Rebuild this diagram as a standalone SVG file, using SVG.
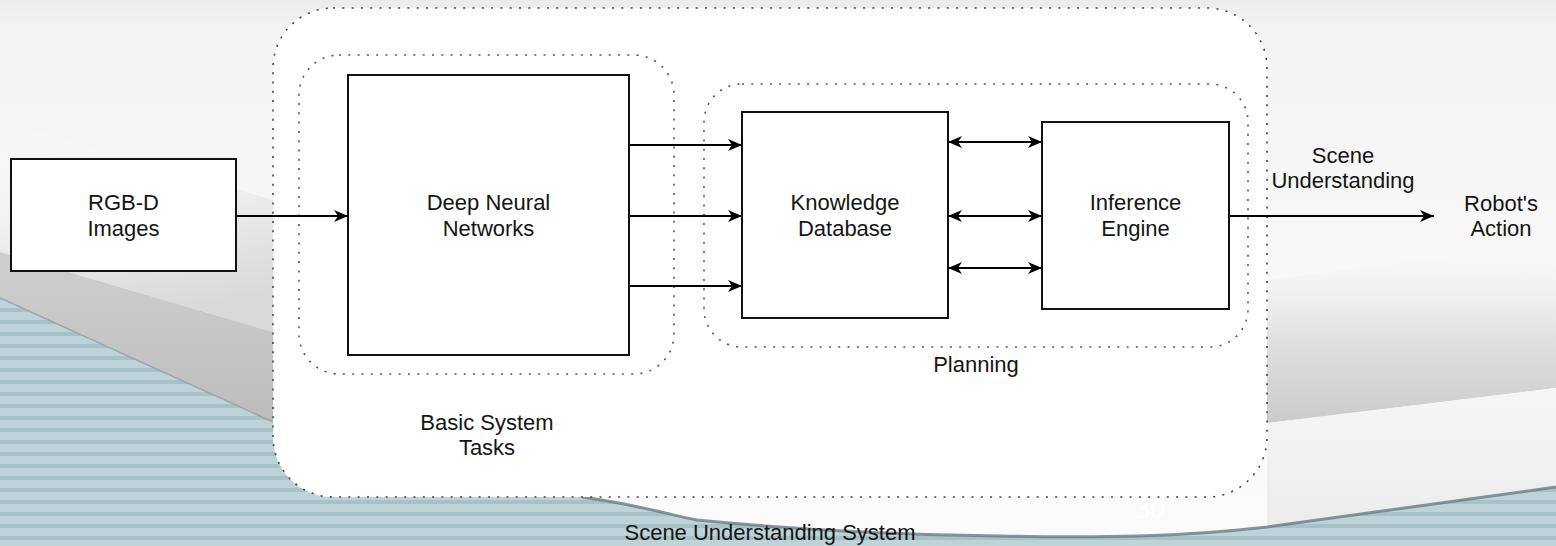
<svg xmlns="http://www.w3.org/2000/svg" width="1556" height="546" viewBox="0 0 1556 546">
  <defs>
    <linearGradient id="bgTop" x1="0" y1="0" x2="0" y2="1">
      <stop offset="0" stop-color="#ececec"/>
      <stop offset="0.05" stop-color="#f3f3f3"/>
      <stop offset="0.5" stop-color="#f8f8f8"/>
      <stop offset="1" stop-color="#fbfbfb"/>
    </linearGradient>
    <linearGradient id="leftLight" x1="0" y1="0" x2="0.25" y2="1">
      <stop offset="0" stop-color="#ffffff" stop-opacity="0"/>
      <stop offset="0.6" stop-color="#eaeaea"/>
      <stop offset="1" stop-color="#d9d9d9"/>
    </linearGradient>
    <linearGradient id="leftBand" x1="0" y1="0" x2="0" y2="1">
      <stop offset="0" stop-color="#cfcfcf"/>
      <stop offset="1" stop-color="#bcbcbc"/>
    </linearGradient>
    <linearGradient id="rightBand" x1="0" y1="0" x2="0" y2="1">
      <stop offset="0" stop-color="#f4f4f4" stop-opacity="0"/>
      <stop offset="0.5" stop-color="#e2e2e2"/>
      <stop offset="1" stop-color="#cbcbcb"/>
    </linearGradient>
    <linearGradient id="rightLow" x1="0" y1="0" x2="0" y2="1">
      <stop offset="0" stop-color="#f6f6f6"/>
      <stop offset="1" stop-color="#ececec"/>
    </linearGradient>
    <pattern id="stripes" x="0" y="0" width="20" height="12" patternUnits="userSpaceOnUse">
      <rect width="20" height="12" fill="#bdd3d8"/>
      <rect y="8" width="20" height="4" fill="#a8c1c7"/>
    </pattern>
    <marker id="arrow" viewBox="0 0 14 12" refX="14" refY="6" markerWidth="14" markerHeight="12" markerUnits="userSpaceOnUse" orient="auto-start-reverse">
      <path d="M0,0 L14,6 L0,12 L4,6 Z" fill="#000"/>
    </marker>
    <style>
      .box { fill: #ffffff; stroke: #111; stroke-width: 2; }
      .dot-outer { fill: #ffffff; stroke: #444; stroke-width: 1.6; stroke-dasharray: 2 7.3; }
      .dot-inner { fill: none; stroke: #555; stroke-width: 1.6; stroke-dasharray: 2 7.3; }
      .lbl { font-family: "Liberation Sans", Arial, Helvetica, sans-serif; font-size: 22px; fill: #151515; text-anchor: middle; }
      .edge { fill: none; stroke: #000; stroke-width: 2; }
    </style>
  </defs>

  <!-- slide background -->
  <g id="background">
    <rect x="0" y="0" width="1556" height="546" fill="url(#bgTop)"/>
    <path d="M0,120 L273,200 L273,332 L0,252 Z" fill="url(#leftLight)"/>
    <path d="M0,252 L273,332 L273,424 L0,298 Z" fill="url(#leftBand)"/>
    <path d="M1267,280 C1380,265 1480,252 1556,245 L1556,388 L1267,423 Z" fill="url(#rightBand)"/>
    <path d="M1267,423 L1556,388 L1556,487 C1450,505 1350,518 1267,527 Z" fill="url(#rightLow)"/>
    <path d="M0,298 L273,422 L480,490 L582,497 C640,505 670,515 697,520 C800,530 900,535 1000,536 C1100,538 1180,537 1267,527 L1556,487 L1556,546 L0,546 Z" fill="url(#stripes)"/>
    <path d="M582,497 C640,505 670,515 697,520 C800,530 900,535 1000,536 C1100,538 1180,537 1267,527 L1556,487" fill="none" stroke="#5f777e" stroke-width="3" opacity="0.75"/>
    <path d="M0,298 L273,422" fill="none" stroke="#8d9ea3" stroke-width="1.5" opacity="0.8"/>
    <text x="1135" y="518" font-family="Liberation Serif, serif" font-size="30" fill="#ffffff">30</text>
  </g>

  <!-- containers -->
  <g id="scene-understanding-system">
    <rect class="dot-outer" x="273" y="8" width="994" height="489" rx="60" ry="60"/>
    <text class="lbl" x="770" y="540" font-size="21">Scene Understanding System</text>
  </g>
  <g id="basic-system-tasks">
    <rect class="dot-inner" x="299" y="55" width="375" height="319" rx="40" ry="40"/>
    <text class="lbl" x="487" y="430">Basic System</text>
    <text class="lbl" x="487" y="455">Tasks</text>
  </g>
  <g id="planning">
    <rect class="dot-inner" x="704" y="84" width="544" height="263" rx="38" ry="38"/>
    <text class="lbl" x="976" y="372">Planning</text>
  </g>

  <!-- connectors -->
  <g id="connectors">
    <path class="edge" d="M236,216 L348,216" marker-end="url(#arrow)"/>
    <path class="edge" d="M629,145 L742,145" marker-end="url(#arrow)"/>
    <path class="edge" d="M629,216 L742,216" marker-end="url(#arrow)"/>
    <path class="edge" d="M629,286 L742,286" marker-end="url(#arrow)"/>
    <path class="edge" d="M948,142 L1042,142" marker-start="url(#arrow)" marker-end="url(#arrow)"/>
    <path class="edge" d="M948,216 L1042,216" marker-start="url(#arrow)" marker-end="url(#arrow)"/>
    <path class="edge" d="M948,268 L1042,268" marker-start="url(#arrow)" marker-end="url(#arrow)"/>
    <path class="edge" d="M1229,216 L1434,216" marker-end="url(#arrow)"/>
    <text class="lbl" x="1343" y="163">Scene</text>
    <text class="lbl" x="1343" y="188">Understanding</text>
  </g>

  <!-- nodes -->
  <g id="rgbd-images">
    <rect class="box" x="11" y="159" width="225" height="112"/>
    <text class="lbl" x="123.5" y="210">RGB-D</text>
    <text class="lbl" x="123.5" y="236">Images</text>
  </g>
  <g id="deep-neural-networks">
    <rect class="box" x="348" y="75" width="281" height="280"/>
    <text class="lbl" x="488.5" y="210">Deep Neural</text>
    <text class="lbl" x="488.5" y="236">Networks</text>
  </g>
  <g id="knowledge-database">
    <rect class="box" x="742" y="112" width="206" height="206"/>
    <text class="lbl" x="845" y="210">Knowledge</text>
    <text class="lbl" x="845" y="236">Database</text>
  </g>
  <g id="inference-engine">
    <rect class="box" x="1042" y="122" width="187" height="187"/>
    <text class="lbl" x="1135.5" y="210">Inference</text>
    <text class="lbl" x="1135.5" y="236">Engine</text>
  </g>
  <g id="robots-action">
    <text class="lbl" x="1501" y="211">Robot's</text>
    <text class="lbl" x="1501" y="236">Action</text>
  </g>
</svg>
